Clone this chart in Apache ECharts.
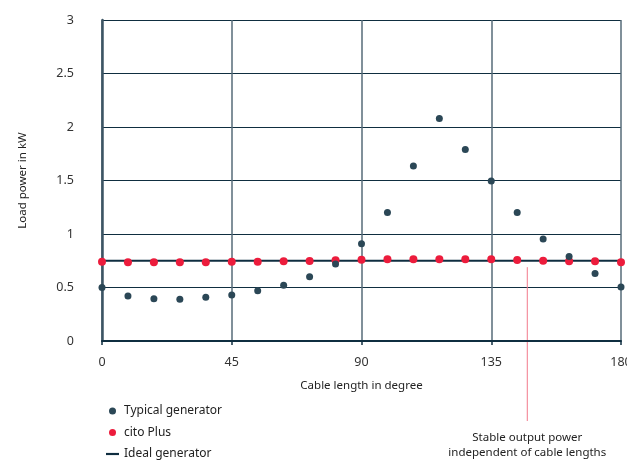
<!DOCTYPE html>
<html><head><meta charset="utf-8">
<script src="https://cdn.jsdelivr.net/npm/echarts@6/dist/echarts.min.js"></script>
<style>html,body{margin:0;padding:0;background:#fff}#c{width:627px;height:461px}</style>
</head><body><div id="c"></div>
<script>
const angles = [0,9,18,27,36,45,54,63,72,81,90,99,108,117,126,135,144,153,162,171,180];
const typical = [0.50,0.42,0.395,0.39,0.41,0.43,0.47,0.52,0.60,0.72,0.91,1.20,1.635,2.08,1.79,1.495,1.20,0.953,0.79,0.63,0.505];
const citoPlus = [0.74,0.735,0.735,0.735,0.735,0.74,0.74,0.745,0.748,0.755,0.76,0.763,0.763,0.763,0.763,0.763,0.757,0.75,0.745,0.745,0.737];
const idealLevel = 0.75;
const idealRange = [0,180];
const xTicks = {min:0,max:180,interval:45};
const yTicks = {min:0,max:3,interval:0.5};
const annotation = {x:147.5, y:0.69, text:'Stable output power\nindependent of cable lengths'};

const FONT = 'Noto Sans';
const DARK = '#0f2e40';
const chart = echarts.init(document.getElementById('c'), null, {renderer:'canvas'});
chart.setOption({
  animation:false,
  textStyle:{fontFamily:FONT},
  grid:{left:102,right:6,top:20,bottom:120,outerBoundsMode:'none',containLabel:false},
  xAxis:{type:'value',min:xTicks.min,max:xTicks.max,interval:xTicks.interval,
    name:'Cable length in degree',nameLocation:'middle',nameGap:39,
    nameTextStyle:{color:'#222',fontSize:11.5,fontFamily:FONT},
    axisLine:{show:true,lineStyle:{color:DARK,width:2}},
    axisTick:{show:true,length:4,lineStyle:{color:DARK,width:1.5}},
    axisLabel:{color:'#333',fontSize:12.5,margin:15,fontFamily:FONT},
    splitLine:{show:true,lineStyle:{color:'#566b78',width:1.5}}},
  yAxis:{type:'value',min:yTicks.min,max:yTicks.max,interval:yTicks.interval,
    name:'Load power in kW',nameLocation:'middle',nameGap:73,
    nameTextStyle:{color:'#222',fontSize:11.5,fontFamily:FONT},
    axisLine:{show:true,lineStyle:{color:'#3c5564',width:2.5}},
    axisTick:{show:false},
    axisLabel:{color:'#333',fontSize:12.5,margin:28,fontFamily:FONT},
    splitLine:{show:true,lineStyle:{color:DARK,width:1.2}}},
  legend:{orient:'vertical',left:106,top:405,height:60,padding:0,itemWidth:13,itemHeight:7,itemGap:9.5,
    textStyle:{color:'#222',fontSize:12,fontFamily:FONT},
    data:[{name:'Typical generator',icon:'circle'},{name:'cito Plus',icon:'circle'},
          {name:'Ideal generator',icon:'path://M0,0H12V2H0Z'}]},
  series:[
    {name:'Ideal generator',type:'line',data:idealRange.map(a=>[a,idealLevel]),
      symbol:'none',lineStyle:{color:DARK,width:2},itemStyle:{color:DARK},z:2},
    {name:'Typical generator',type:'scatter',data:angles.map((a,i)=>[a,typical[i]]),
      symbolSize:7,itemStyle:{color:'#2b4756',opacity:1},z:4},
    {name:'cito Plus',type:'scatter',data:angles.map((a,i)=>[a,citoPlus[i]]),
      symbolSize:8,itemStyle:{color:'#ec1c3c',opacity:1},z:3}
  ]
});
const annTop = chart.convertToPixel({gridIndex:0},[annotation.x,annotation.y]);
chart.setOption({graphic:[
  {type:'line',shape:{x1:annTop[0],y1:annTop[1],x2:annTop[0],y2:421},style:{stroke:'#f27a8c',lineWidth:1}},
  {type:'text',x:annTop[0],y:430,style:{text:annotation.text,align:'center',verticalAlign:'top',
    font:'11.5px '+FONT,fill:'#222',lineHeight:15}}
]});
</script></body></html>
